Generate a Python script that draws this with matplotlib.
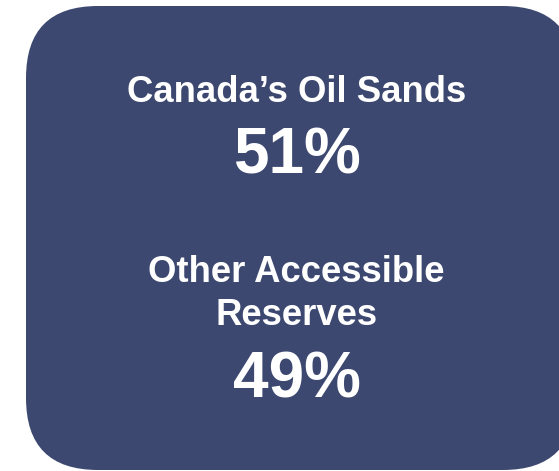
import matplotlib
matplotlib.use("Agg")
import matplotlib.pyplot as plt
from matplotlib.patches import FancyBboxPatch

# Share of accessible reserves
labels = ["Canada’s Oil Sands", "Other Accessible\nReserves"]
shares = [51, 49]

# baselines (pixels from top) for each block: label lines, then value
label_base = [[102], [282, 325]]
value_base = [173, 397]

fig = plt.figure(figsize=(5.59, 4.71), dpi=100)
ax = fig.add_axes([0, 0, 1, 1])
ax.set_xlim(0, 559)
ax.set_ylim(471, 0)
ax.axis('off')

box = FancyBboxPatch((26, 6), 549, 464,
                     boxstyle="round,pad=0,rounding_size=72",
                     facecolor='#3C4870', edgecolor='none')
ax.add_patch(box)

cx = 296.5
for lab, bases, val, vb in zip(labels, label_base, shares, value_base):
    for line, b in zip(lab.split('\n'), bases):
        ax.text(cx, b, line, ha='center', va='baseline', color='white',
                fontsize=26.3, fontweight='bold', family='Liberation Sans')
    ax.text(cx, vb, f"{val}%", ha='center', va='baseline', color='white',
            fontsize=46, fontweight='bold', family='Liberation Sans')

fig.savefig('out.png', dpi=100)
